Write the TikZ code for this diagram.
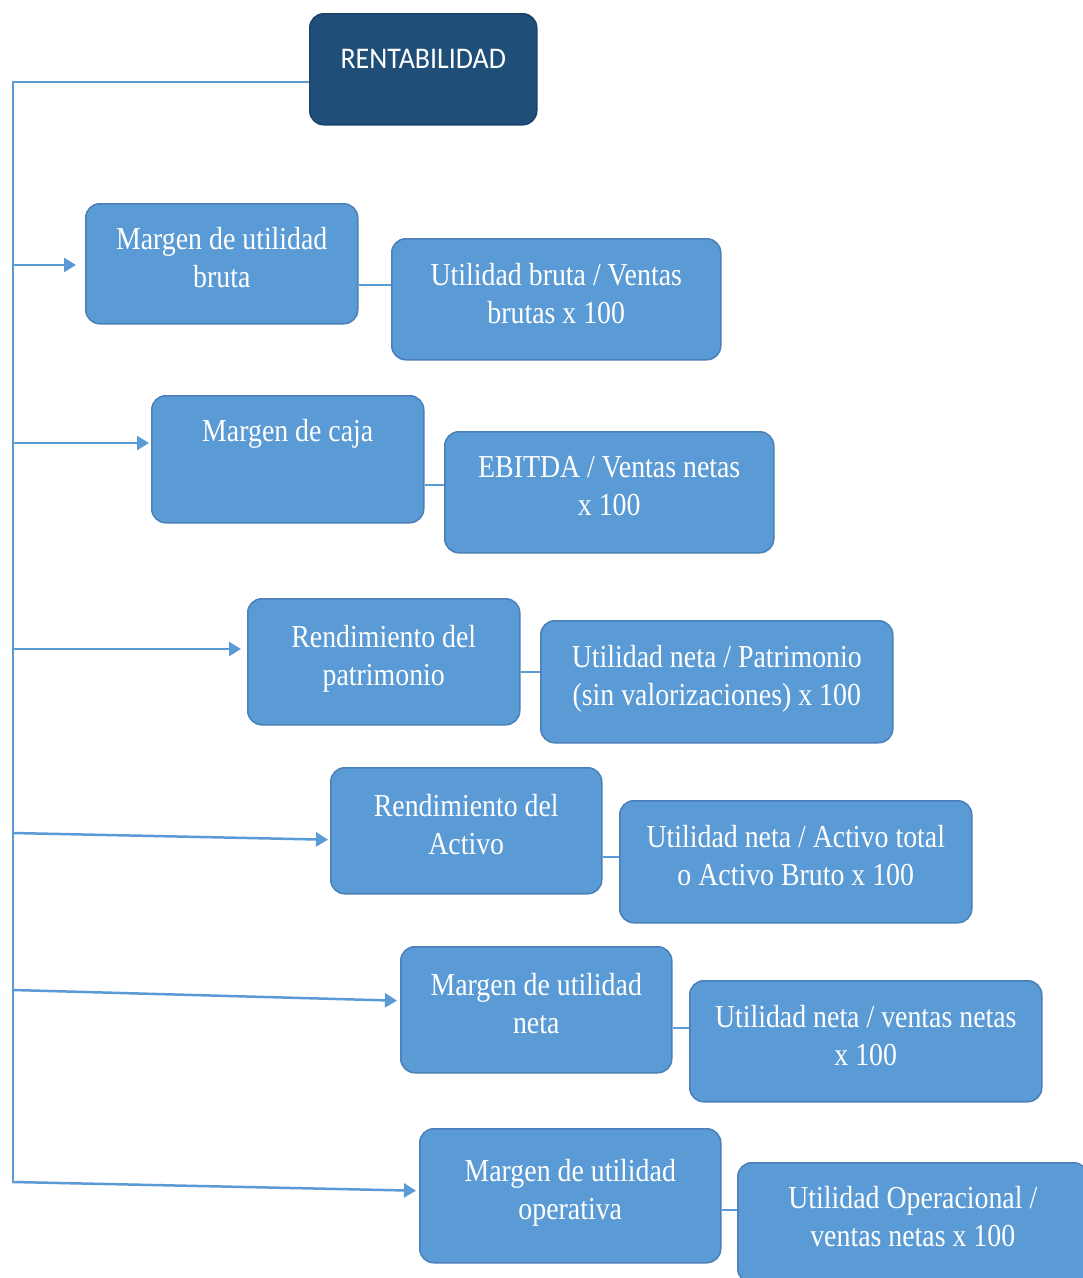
\documentclass[tikz,border=0pt]{standalone}
\usepackage{fontspec}
\setmainfont{Liberation Serif}[FakeStretch=0.87]
\newfontfamily\calib{Carlito}[FakeStretch=0.93]
\usetikzlibrary{arrows.meta,calc}
\definecolor{boxfill}{HTML}{5B9BD5}
\definecolor{boxline}{HTML}{4A7FB8}
\definecolor{rootfill}{HTML}{1F4E79}
\definecolor{rootline}{HTML}{1A4368}
\definecolor{linkc}{HTML}{5B9BD5}
\newcommand\dpfix{\rule[-12pt]{0pt}{12pt}}
\begin{document}
\begin{tikzpicture}[x=1pt,y=-1pt,
  card/.style={draw=boxline, line width=1.5pt, fill=boxfill, rounded corners=14pt,
    anchor=north west, align=center, text=white, inner sep=0pt,
    font=\fontsize{32}{38}\selectfont},
  rootbox/.style={card, fill=rootfill, draw=rootline,
    font=\calib\fontsize{30}{36}\selectfont, text height=20pt, text depth=22pt},
  link/.style={draw=linkc, line width=2pt},
  arr/.style={draw=linkc, line width=2.5pt, -{Triangle[length=12pt,width=14pt]}}]
\useasboundingbox[fill=white] (0,0) rectangle (1083,1278);

% root
\node[rootbox, minimum width=227pt, minimum height=111pt] (root) at (309,13) {RENTABILIDAD};

% left column boxes
\node[card, minimum width=272pt, minimum height=120pt] (m1) at (85,203) {Margen de utilidad\\bruta\dpfix};
\node[card, minimum width=272pt, minimum height=127pt] (m2) at (151,395) {Margen de caja\\[20pt]\mbox{}};
\node[card, minimum width=272pt, minimum height=126pt] (m3) at (247,598) {Rendimiento del\\patrimonio\dpfix};
\node[card, minimum width=271pt, minimum height=126pt] (m4) at (330,767) {Rendimiento del\\Activo\dpfix};
\node[card, minimum width=271pt, minimum height=126pt] (m5) at (400,946) {Margen de utilidad\\neta\dpfix};
\node[card, minimum width=301pt, minimum height=134pt] (m6) at (419,1128) {Margen de utilidad\\operativa\dpfix};

% formula boxes
\node[card, minimum width=329pt, minimum height=121pt] (f1) at (391,238) {Utilidad bruta / Ventas\\brutas x 100\dpfix};
\node[card, minimum width=329pt, minimum height=121pt] (f2) at (444,431) {EBITDA / Ventas netas\\x 100\dpfix};
\node[card, minimum width=352pt, minimum height=122pt] (f3) at (540,620) {Utilidad neta / Patrimonio\\(sin valorizaciones) x 100\dpfix};
\node[card, minimum width=352pt, minimum height=122pt] (f4) at (619,800) {Utilidad neta / Activo total\\o Activo Bruto x 100\dpfix};
\node[card, minimum width=352pt, minimum height=121pt] (f5) at (689,980) {Utilidad neta / ventas netas\\x 100\dpfix};
\node[card, minimum width=350pt, minimum height=120pt] (f6) at (737,1162) {Utilidad Operacional /\\ventas netas x 100\dpfix};

% trunk
\coordinate (top) at (13,82);
\coordinate (bot) at (13,1183);
\draw[link] (root.west |- top) -- (top) -- (bot);

% branch arrows
\coordinate (t1) at (13,265);
\coordinate (t2) at (13,443);
\coordinate (t3) at (13,649);
\coordinate (t4) at (13,833);
\coordinate (t5) at (13,990);
\coordinate (t6) at (13,1182);
\draw[arr, shorten >=9pt] (t1) -- (m1.west |- t1);
\draw[arr, shorten >=2pt] (t2) -- (m2.west |- t2);
\draw[arr, shorten >=6pt] (t3) -- (m3.west |- t3);
\draw[arr, shorten >=2pt] (t4) -- ($(m4.west)+(0,9)$);
\draw[arr, shorten >=3pt] (t5) -- ($(m5.west)+(0,-9)$);
\draw[arr, shorten >=3pt] (t6) -- ($(m6.west)+(0,-5)$);

% connectors between pairs
\draw[link] (m1.east |- 0,285) -- (f1.west |- 0,285);
\draw[link] (m2.east |- 0,485) -- (f2.west |- 0,485);
\draw[link] (m3.east |- 0,672) -- (f3.west |- 0,672);
\draw[link] (m4.east |- 0,857) -- (f4.west |- 0,857);
\draw[link] (m5.east |- 0,1028) -- (f5.west |- 0,1028);
\draw[link] (m6.east |- 0,1210) -- (f6.west |- 0,1210);
\end{tikzpicture}
\end{document}
